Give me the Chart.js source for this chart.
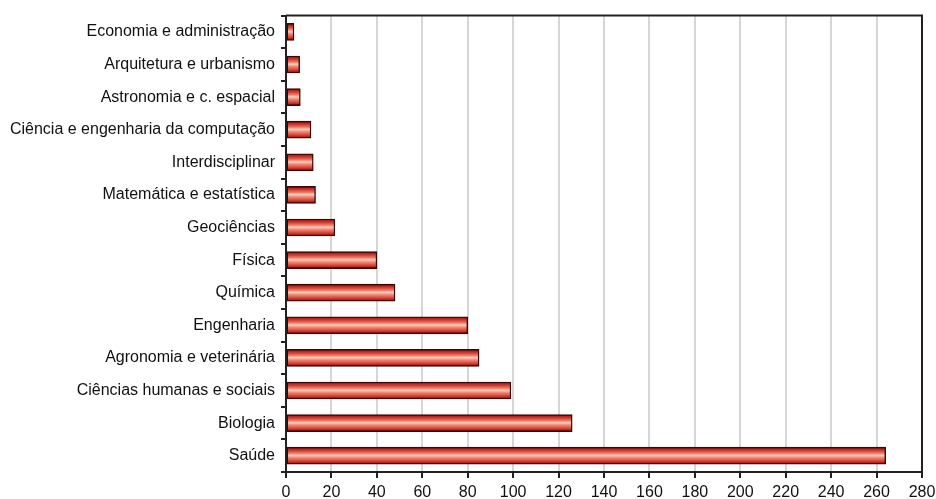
<!DOCTYPE html>
<html>
<head>
<meta charset="utf-8">
<script src="https://cdn.jsdelivr.net/npm/chart.js@4"></script>
<style>
  html, body { margin: 0; padding: 0; background: #ffffff; }
  #wrap { width: 936px; height: 499px; position: relative; }
</style>
</head>
<body>
<div id="wrap"><canvas id="chart" width="936" height="499"></canvas></div>
<script>
// Research areas (top to bottom) and their counts
const areas = [
  'Economia e administração',
  'Arquitetura e urbanismo',
  'Astronomia e c. espacial',
  'Ciência e engenharia da computação',
  'Interdisciplinar',
  'Matemática e estatística',
  'Geociências',
  'Física',
  'Química',
  'Engenharia',
  'Agronomia e veterinária',
  'Ciências humanas e sociais',
  'Biologia',
  'Saúde'
];
const counts = [3.5, 6, 6.3, 11, 12, 13, 21.5, 40, 48, 80, 85, 99, 126, 264];
const xTicks = [0, 20, 40, 60, 80, 100, 120, 140, 160, 180, 200, 220, 240, 260, 280];

const BAR_PX = 17;

// Cylinder-like shading across each bar's thickness
function barFill(ctx) {
  const chart = ctx.chart;
  const yScale = chart.scales && chart.scales.y;
  if (!chart.chartArea || !yScale) return '#d9463a';
  const yc = yScale.getPixelForValue(ctx.dataIndex);
  const g = chart.ctx.createLinearGradient(0, yc - BAR_PX / 2, 0, yc + BAR_PX / 2);
  g.addColorStop(0.00, '#6a0808');
  g.addColorStop(0.10, '#b0221c');
  g.addColorStop(0.24, '#dc4a3c');
  g.addColorStop(0.36, '#ee7e68');
  g.addColorStop(0.48, '#f9cfc0');
  g.addColorStop(0.62, '#ef8872');
  g.addColorStop(0.78, '#de4e40');
  g.addColorStop(0.90, '#b42620');
  g.addColorStop(1.00, '#6a0808');
  return g;
}

// Closes the plot frame on the top and right sides
const frame = {
  id: 'frame',
  afterDraw(chart) {
    const { ctx, chartArea: a } = chart;
    ctx.save();
    ctx.strokeStyle = '#222';
    ctx.lineWidth = 2;
    ctx.beginPath();
    ctx.moveTo(a.left, a.top);
    ctx.lineTo(a.right, a.top);
    ctx.lineTo(a.right, a.bottom);
    ctx.stroke();
    ctx.restore();
  }
};

new Chart(document.getElementById('chart'), {
  type: 'bar',
  data: {
    labels: areas,
    datasets: [{
      data: counts,
      backgroundColor: barFill,
      borderColor: '#3a0606',
      borderWidth: 1.4,
      borderSkipped: false,
      barThickness: BAR_PX
    }]
  },
  options: {
    indexAxis: 'y',
    responsive: false,
    animation: false,
    devicePixelRatio: 1,
    layout: { padding: { top: 14, right: 0, left: 0, bottom: 0 } },
    plugins: { legend: { display: false }, tooltip: { enabled: false } },
    scales: {
      x: {
        min: 0,
        max: 280,
        afterBuildTicks(scale) { scale.ticks = xTicks.map(v => ({ value: v })); },
        afterFit(scale) {
          scale.height = 27;
          scale.paddingLeft = 0;
          scale.paddingRight = 14;
        },
        grid: {
          color: '#d6d6d6',
          lineWidth: 2,
          tickColor: '#222',
          tickLength: 6,
          drawTicks: true
        },
        border: { color: '#222', width: 2 },
        ticks: {
          color: '#111',
          padding: 5,
          maxRotation: 0,
          autoSkip: false,
          font: { family: 'Liberation Sans, Arial, sans-serif', size: 16 }
        }
      },
      y: {
        afterFit(scale) { scale.width = 286; },
        grid: {
          offset: true,
          drawOnChartArea: false,
          drawTicks: true,
          tickLength: 5,
          tickColor: '#222',
          lineWidth: 2
        },
        border: { color: '#222', width: 2 },
        ticks: {
          color: '#111',
          padding: 6,
          autoSkip: false,
          font: { family: 'Liberation Sans, Arial, sans-serif', size: 16 }
        }
      }
    }
  },
  plugins: [frame]
});
</script>
</body>
</html>
